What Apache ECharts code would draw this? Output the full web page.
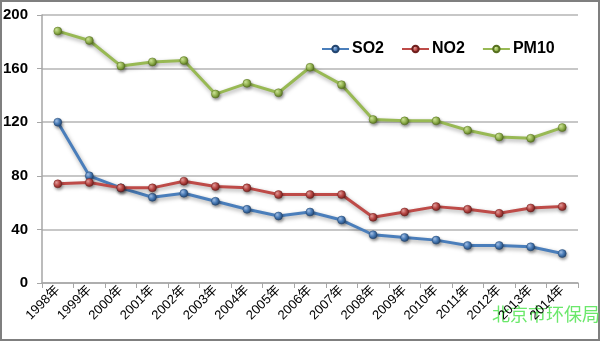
<!DOCTYPE html>
<html><head><meta charset="utf-8">
<script src="https://cdn.jsdelivr.net/npm/echarts@6/dist/echarts.min.js"></script>
<style>html,body{margin:0;padding:0;background:#fff}#c{width:601px;height:342px}</style>
</head><body><div id="c"></div>
<script>
var years = ['1998年','1999年','2000年','2001年','2002年','2003年','2004年','2005年','2006年','2007年','2008年','2009年','2010年','2011年','2012年','2013年','2014年'];
var so2  = [120, 80, 71, 64, 67, 61, 55, 50, 53, 47, 36, 34, 32, 28, 28, 27, 22];
var no2  = [74, 75, 71, 71, 76, 72, 71, 66, 66, 66, 49, 53, 57, 55, 52, 56, 57];
var pm10 = [188, 181, 162, 165, 166, 141, 149, 142, 161, 148, 122, 121, 121, 114, 109, 108, 116];
var yTicks = [0, 40, 80, 120, 160, 200];

function ball(c, light, dark){
  return {type:'radial', x:0.35, y:0.35, r:0.7, colorStops:[{offset:0,color:light},{offset:0.5,color:c},{offset:1,color:dark}]};
}
function mk(name, data, c, light, dark){
  return {
    name:name, type:'line', data:data, symbol:'circle', symbolSize:8,
    lineStyle:{color:c, width:3, shadowColor:'rgba(0,0,0,0.35)', shadowBlur:4, shadowOffsetX:1, shadowOffsetY:2},
    itemStyle:{color:ball(c, light, dark), borderColor:dark, borderWidth:0.5, shadowColor:'rgba(0,0,0,0.35)', shadowBlur:3, shadowOffsetX:1, shadowOffsetY:2},
    emphasis:{disabled:true}, animation:false
  };
}
var chart = echarts.init(document.getElementById('c'));
chart.setOption({
  animation:false,
  backgroundColor:'#fff',
  grid:{left:41, right:23, top:15, bottom:59},
  legend:{
    top:36, left:316, itemWidth:27, itemHeight:8, itemGap:17,
    textStyle:{fontFamily:'Liberation Sans Narrow, Liberation Sans, Arial', fontWeight:'bold', fontSize:16, color:'#000', padding:[0,0,0,-2]},
    data:['SO2','NO2','PM10']
  },
  xAxis:{
    type:'category', data:years, boundaryGap:true,
    axisLine:{lineStyle:{color:'#a6a6a6', width:1.5}},
    axisTick:{show:true, alignWithLabel:false, length:5, lineStyle:{color:'#a6a6a6'}},
    axisLabel:{rotate:45, interval:0, fontSize:13, color:'#000', fontFamily:'Liberation Sans, Noto Sans CJK SC', margin:5}
  },
  yAxis:{
    type:'value', min:yTicks[0], max:yTicks[yTicks.length-1], interval:40,
    axisLine:{show:true, lineStyle:{color:'#a6a6a6', width:1.5}},
    axisTick:{show:true, length:5, inside:false, lineStyle:{color:'#a6a6a6'}},
    splitLine:{lineStyle:{color:'#b5b5b5', width:1.5}},
    axisLabel:{fontSize:15, fontWeight:'bold', color:'#000', fontFamily:'Liberation Sans Narrow, Liberation Sans, Arial', margin:14}
  },
  series:[
    mk('SO2', so2, '#4a7ebb', '#a9c7ee', '#23456f'),
    mk('NO2', no2, '#be4b48', '#eaa3a1', '#6e1f1d'),
    mk('PM10', pm10, '#98b954', '#d6ec9f', '#56701f')
  ],
  graphic:[
    {type:'rect', shape:{x:1, y:1, width:598, height:339}, style:{fill:'none', stroke:'#7f7f7f', lineWidth:2}, silent:true},
    {type:'text', left:492, top:305, style:{text:'北京市环保局', fill:'#6be86b', font:'18px "Noto Sans CJK SC"'}, silent:true}
  ]
});
</script></body></html>
